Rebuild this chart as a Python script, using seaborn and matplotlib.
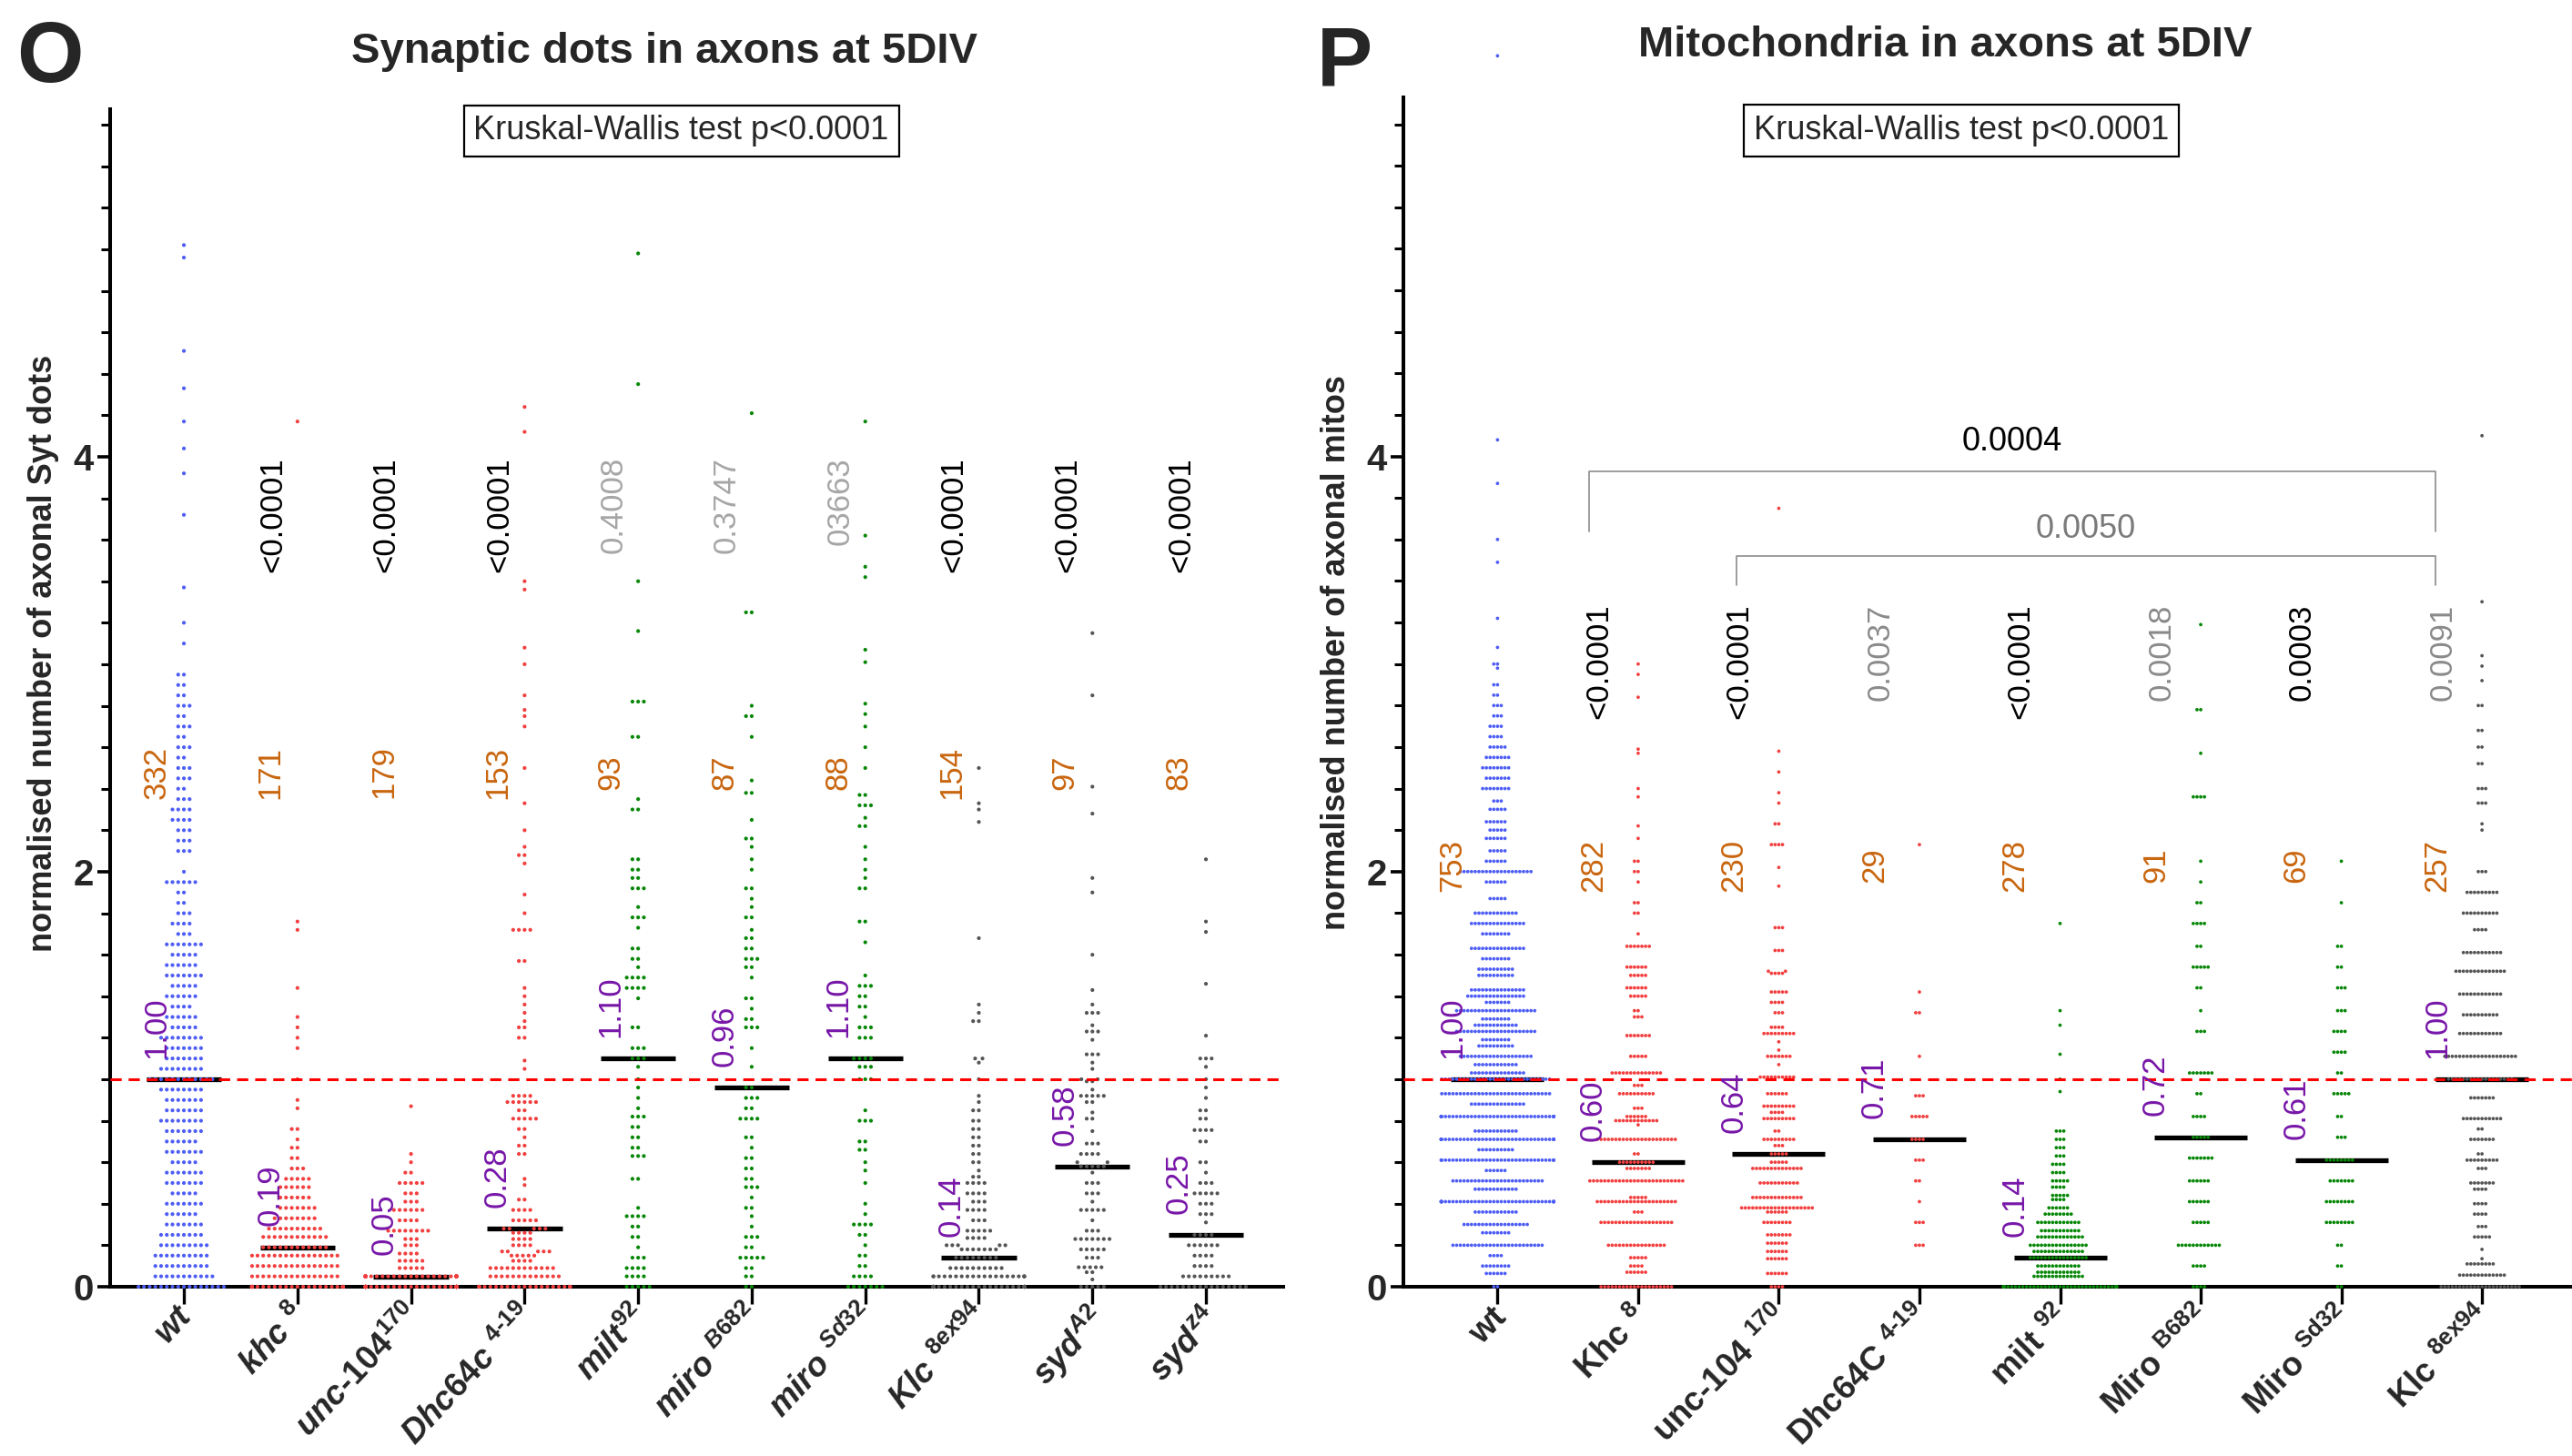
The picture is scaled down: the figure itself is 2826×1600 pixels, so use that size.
import warnings
warnings.filterwarnings('ignore')

import numpy as np
import pandas as pd
import matplotlib
matplotlib.use('Agg')
import matplotlib.pyplot as plt
from matplotlib.ticker import MultipleLocator
from matplotlib.transforms import ScaledTranslation
import seaborn as sns

# ---------------------------------------------------------------
# Panel O : synaptic (Syt) dots per axon, normalised to wt
# each group = distinct values + how many axons sit at each value
# ---------------------------------------------------------------
syt_groups = ['wt', 'khc8', 'unc104', 'Dhc64c', 'milt92', 'miroB682',
              'miroSd32', 'Klc8ex94', 'sydA2', 'sydZ4']

syt_wt_vals = [0, 0.05, 0.1, 0.15, 0.2, 0.25, 0.3, 0.35, 0.4, 0.45, 0.5, 0.55, 0.6, 0.65,
               0.7, 0.75, 0.8, 0.85, 0.9, 0.95, 1.0, 1.05, 1.1, 1.15, 1.2, 1.25, 1.3, 1.35,
               1.4, 1.45, 1.5, 1.55, 1.6, 1.65, 1.7, 1.75, 1.8, 1.85, 1.9, 1.95, 2.0, 2.1,
               2.15, 2.2, 2.25, 2.3, 2.35, 2.4, 2.45, 2.5, 2.55, 2.6, 2.65, 2.7, 2.75, 2.8,
               2.85, 2.9, 2.95, 3.1, 3.2, 3.37, 3.72, 3.92, 4.04, 4.17, 4.33, 4.51, 4.96, 5.02]
syt_wt_n = [16, 11, 10, 10, 9, 8, 7, 6, 7, 5, 7, 7, 5, 7, 6, 7, 8, 7, 7, 8, 12,
            8, 7, 7, 8, 5, 6, 4, 6, 5, 7, 6, 5, 7, 3, 4, 3, 2, 2, 6, 1,
            3, 3, 3, 4, 4, 3, 2, 3, 3, 2, 3, 2, 3, 2, 3, 2, 2, 2,
            1, 1, 1, 1, 1, 1, 1, 1, 1, 1, 1]

syt_khc_vals = [0, 0.05, 0.1, 0.15, 0.19, 0.24, 0.28, 0.33, 0.38, 0.43, 0.48, 0.52, 0.57,
                0.62, 0.67, 0.71, 0.76, 0.86, 0.9, 1.0, 1.15, 1.2, 1.25, 1.3, 1.44, 1.72,
                1.76, 4.17]
syt_khc_n = [36, 16, 16, 16, 12, 12, 10, 8, 7, 6, 6, 5, 3, 2, 2, 1, 2, 1, 1, 1,
             1, 1, 1, 1, 1, 1, 1, 1]

syt_unc_vals = [0, 0.05, 0.09, 0.125, 0.16, 0.2, 0.23, 0.27, 0.32, 0.37, 0.41, 0.45, 0.5,
                0.55, 0.6, 0.64, 0.87]
syt_unc_n = [85, 40, 5, 5, 4, 3, 3, 8, 4, 6, 3, 3, 5, 2, 1, 1, 1]

syt_dhc_vals = [0, 0.05, 0.09, 0.125, 0.15, 0.17, 0.2, 0.23, 0.26, 0.28, 0.32, 0.37, 0.42,
                0.49, 0.52, 0.64, 0.68, 0.72, 0.76, 0.81, 0.85, 0.89, 0.92, 1.05, 1.09, 1.2,
                1.25, 1.28, 1.32, 1.36, 1.4, 1.44, 1.57, 1.72, 1.8, 1.89, 2.04, 2.08, 2.12,
                2.2, 2.33, 2.5, 2.7, 2.75, 2.78, 2.85, 3.0, 3.08, 3.36, 3.4, 4.12, 4.24]
syt_dhc_n = [24, 13, 12, 4, 5, 5, 4, 4, 4, 5, 5, 4, 2, 1, 1, 2, 2, 1, 2, 5, 2, 6, 4,
             1, 1, 2, 2, 1, 1, 1, 1, 1, 2, 4, 1, 1, 1, 2, 1, 1, 1, 1, 1, 1, 1, 1, 1, 1,
             1, 1, 1, 1]

syt_milt_vals = [0, 0.05, 0.09, 0.14, 0.19, 0.24, 0.29, 0.34, 0.38, 0.52, 0.63, 0.67, 0.72,
                 0.77, 0.82, 0.86, 0.91, 0.96, 1.0, 1.06, 1.1, 1.15, 1.25, 1.39, 1.44, 1.49,
                 1.54, 1.58, 1.63, 1.73, 1.78, 1.83, 1.92, 1.97, 2.01, 2.06, 2.3, 2.35, 2.65,
                 2.82, 3.16, 3.4, 4.35, 4.98]
syt_milt_n = [5, 4, 4, 3, 1, 2, 2, 4, 1, 2, 3, 2, 2, 2, 3, 1, 1, 1, 1, 1, 3,
              3, 2, 1, 4, 4, 1, 2, 2, 1, 3, 1, 3, 2, 2, 2, 2, 1, 2, 3, 1, 1, 1, 1]

syt_miroB_vals = [0, 0.05, 0.09, 0.14, 0.19, 0.24, 0.29, 0.34, 0.38, 0.43, 0.48, 0.52, 0.57,
                  0.62, 0.67, 0.72, 0.81, 0.86, 0.91, 0.96, 1.06, 1.15, 1.25, 1.29, 1.34,
                  1.39, 1.49, 1.54, 1.58, 1.63, 1.68, 1.72, 1.78, 1.83, 1.87, 1.92, 2.01,
                  2.06, 2.12, 2.16, 2.25, 2.38, 2.44, 2.65, 2.75, 2.8, 3.25, 4.21]
syt_miroB_n = [2, 2, 2, 5, 2, 3, 1, 1, 2, 1, 3, 2, 2, 2, 1, 2, 4, 2, 3, 2,
               1, 1, 3, 2, 1, 2, 1, 2, 3, 2, 2, 1, 2, 1, 1, 2, 1, 1, 1, 2,
               1, 2, 1, 1, 2, 1, 2, 1]

syt_miroS_vals = [0, 0.05, 0.1, 0.15, 0.2, 0.25, 0.3, 0.35, 0.4, 0.5, 0.56, 0.6, 0.66, 0.7,
                  0.8, 0.85, 1.0, 1.06, 1.1, 1.2, 1.25, 1.3, 1.35, 1.4, 1.45, 1.5, 1.66,
                  1.76, 1.92, 1.97, 2.01, 2.06, 2.12, 2.22, 2.26, 2.32, 2.37, 2.5, 2.6, 2.7,
                  2.76, 2.81, 3.01, 3.07, 3.42, 3.47, 3.62, 4.17]
syt_miroS_n = [7, 4, 2, 2, 1, 2, 4, 1, 1, 1, 1, 1, 2, 2, 3, 1, 3, 3, 4,
               3, 3, 1, 2, 2, 3, 1, 1, 2, 2, 1, 1, 1, 1, 2, 1, 3,
               2, 1, 1, 1, 1, 1, 1, 1, 1, 1, 1, 1]

syt_klc_vals = [0, 0.05, 0.09, 0.14, 0.18, 0.2, 0.235, 0.27, 0.32, 0.37, 0.41, 0.45, 0.5,
                0.53, 0.56, 0.6, 0.64, 0.68, 0.72, 0.76, 0.8, 0.85, 0.89, 0.92, 1.0, 1.08,
                1.1, 1.28, 1.32, 1.36, 1.68, 2.24, 2.3, 2.33, 2.5]
syt_klc_n = [45, 20, 10, 8, 7, 5, 4, 5, 3, 4, 3, 4, 4, 2, 1, 2, 2, 2, 2, 2, 2, 2, 1,
             1, 1, 1, 2, 2, 1, 1, 1, 1, 1, 1, 1]

syt_sydA_vals = [0, 0.035, 0.07, 0.094, 0.14, 0.18, 0.23, 0.27, 0.32, 0.37, 0.41, 0.45, 0.5,
                 0.55, 0.58, 0.6, 0.64, 0.69, 0.75, 0.81, 0.84, 0.89, 0.92, 0.95, 0.99, 1.0,
                 1.05, 1.08, 1.12, 1.19, 1.23, 1.26, 1.32, 1.36, 1.43, 1.6, 1.9, 1.97, 2.28,
                 2.41, 2.85, 3.15]
syt_sydA_n = [5, 1, 2, 5, 3, 5, 7, 3, 1, 5, 1, 3, 3, 1, 5,
              2, 4, 3, 1, 2, 1, 2, 5, 1, 2, 2, 1, 1, 3, 1, 3, 1, 3, 1, 1, 1, 1, 1, 1, 1, 1, 1]

syt_sydZ_vals = [0, 0.05, 0.1, 0.15, 0.2, 0.25, 0.31, 0.35, 0.4, 0.45, 0.5, 0.55, 0.6, 0.7,
                 0.755, 0.81, 0.85, 0.91, 0.96, 1.0, 1.06, 1.1, 1.21, 1.46, 1.71, 1.76, 2.06]
syt_sydZ_n = [16, 9, 4, 4, 6, 4, 1, 3, 3, 5, 3, 1, 2, 2, 4, 2, 2, 1, 1, 1, 1, 3, 1,
              1, 1, 1, 1]

syt_medians = [1.00, 0.19, 0.05, 0.28, 1.10, 0.96, 1.10, 0.14, 0.58, 0.25]
syt_cells = [332, 171, 179, 153, 93, 87, 88, 154, 97, 83]
syt_pvals = ['', '<0.0001', '<0.0001', '<0.0001', '0.4008', '0.3747', '03663',
             '<0.0001', '<0.0001', '<0.0001']
syt_signif = [True, True, True, True, False, False, False, True, True, True]
syt_labels = [r'$\mathit{wt}$',
              r'$\mathit{khc\ }^{\mathit{8}}$',
              r'$\mathit{unc}\text{-}\mathit{104}^{\mathit{170}}$',
              r'$\mathit{Dhc64c\ }^{\mathit{4}\text{-}\mathit{19}}$',
              r'$\mathit{milt}^{\mathit{92}}$',
              r'$\mathit{miro\ }^{\mathit{B682}}$',
              r'$\mathit{miro\ }^{\mathit{Sd32}}$',
              r'$\mathit{Klc\ }^{\mathit{8ex94}}$',
              r'$\mathit{syd}^{\mathit{A2}}$',
              r'$\mathit{syd}^{\mathit{z4}}$']

# ---------------------------------------------------------------
# Panel P : mitochondria per axon, normalised to wt
# ---------------------------------------------------------------
mito_groups = ['wt', 'Khc8', 'unc104', 'Dhc64C', 'milt92', 'MiroB682', 'MiroSd32', 'Klc8ex94']

mito_wt_vals = [0, 0.064, 0.1, 0.15, 0.2, 0.26, 0.3, 0.36, 0.41, 0.47, 0.51, 0.56, 0.61, 0.66,
                0.71, 0.75, 0.82, 0.88, 0.93, 1.0, 1.03, 1.07, 1.11, 1.16, 1.19, 1.23, 1.26,
                1.29, 1.33, 1.37, 1.4, 1.43, 1.5, 1.53, 1.58, 1.63, 1.7, 1.75, 1.8, 1.87,
                1.95, 2.0, 2.05, 2.1, 2.16, 2.2, 2.24, 2.3, 2.34, 2.4, 2.45, 2.5, 2.55, 2.6,
                2.65, 2.7, 2.75, 2.8, 2.85, 2.9, 2.98, 3.0, 3.08, 3.22, 3.49, 3.6, 3.87,
                4.08, 5.93]
mito_wt_n = [2, 6, 8, 4, 25, 8, 18, 12, 40, 12, 25, 6, 35, 10, 40, 12, 40, 15, 30, 30,
             15, 12, 20, 10, 8, 22, 12, 8, 22, 7, 16, 15, 10, 10, 8, 15, 8, 15, 12, 5,
             6, 20, 6, 5, 6, 5, 6, 5, 3, 8, 7, 8, 7, 5, 4, 4, 3, 3, 2, 2, 1, 2, 1, 1, 1,
             1, 1, 1, 1]

mito_khc_vals = [0, 0.07, 0.1, 0.14, 0.2, 0.31, 0.36, 0.41, 0.43, 0.51, 0.57, 0.6, 0.64,
                 0.71, 0.78, 0.8, 0.82, 0.86, 0.93, 0.97, 1.03, 1.11, 1.21, 1.3, 1.33, 1.4,
                 1.44, 1.5, 1.54, 1.64, 1.7, 1.8, 1.85, 1.95, 2.0, 2.05, 2.16, 2.22, 2.36,
                 2.4, 2.57, 2.59, 2.84, 2.95, 3.0]
mito_khc_n = [20, 6, 4, 5, 16, 20, 3, 22, 5, 26, 7, 10, 2, 22, 1, 12, 6, 3, 10, 3, 14, 5,
              7, 3, 2, 5, 6, 5, 6, 7, 1, 2, 2, 1, 2, 2, 1, 1, 1, 1, 1, 1, 1, 1, 1]

mito_unc_vals = [0, 0.064, 0.135, 0.17, 0.21, 0.25, 0.31, 0.36, 0.38, 0.43, 0.5, 0.57, 0.6,
                 0.64, 0.68, 0.71, 0.75, 0.81, 0.84, 0.87, 0.93, 1.01, 1.07, 1.11, 1.14,
                 1.18, 1.22, 1.25, 1.32, 1.37, 1.42, 1.51, 1.52, 1.62, 1.73, 1.93, 2.02,
                 2.13, 2.23, 2.33, 2.38, 2.48, 2.58, 3.75]
mito_unc_n = [4, 6, 6, 6, 6, 7, 8, 6, 20, 14, 11, 14, 5, 5, 3, 9, 2, 9, 4, 9, 6, 10, 1,
              7, 1, 1, 9, 4, 3, 4, 5, 4, 2, 3, 3, 1, 1, 4, 2, 1, 1, 1, 1, 1]

mito_dhc_vals = [0.2, 0.31, 0.41, 0.51, 0.61, 0.71, 0.82, 0.92, 1.11, 1.32, 1.42, 2.13]
mito_dhc_n = [3, 3, 1, 2, 3, 4, 5, 3, 1, 2, 1, 1]

mito_milt_vals = [0, 0.05, 0.07, 0.1, 0.14, 0.17, 0.2, 0.24, 0.27, 0.31, 0.35, 0.38, 0.42,
                  0.44, 0.48, 0.51, 0.55, 0.59, 0.63, 0.67, 0.71, 0.75, 0.94, 1.0, 1.12,
                  1.26, 1.33, 1.75]
mito_milt_n = [100, 14, 12, 12, 16, 14, 16, 13, 11, 12, 8, 6, 4, 5, 4, 5, 4, 4, 3, 3, 3,
               3, 1, 1, 1, 1, 1, 1]

mito_miroB_vals = [0, 0.1, 0.2, 0.31, 0.41, 0.51, 0.62, 0.72, 0.82, 0.93, 1.03, 1.23, 1.33,
                   1.44, 1.54, 1.64, 1.75, 1.85, 1.95, 2.05, 2.36, 2.57, 2.78, 3.19]
mito_miroB_n = [4, 4, 12, 5, 6, 6, 7, 5, 4, 2, 7, 3, 1, 2, 5, 2, 4, 2, 1, 1, 4, 1, 2, 1]

mito_miroS_vals = [0, 0.1, 0.2, 0.31, 0.41, 0.51, 0.61, 0.72, 0.82, 0.93, 1.03, 1.13, 1.23,
                   1.33, 1.44, 1.54, 1.64, 1.85, 2.05]
mito_miroS_n = [2, 2, 2, 8, 8, 7, 8, 3, 2, 5, 2, 4, 4, 3, 3, 2, 2, 1, 1]

mito_klc_vals = [0, 0.056, 0.11, 0.135, 0.18, 0.24, 0.29, 0.35, 0.4, 0.47, 0.5, 0.57, 0.61,
                 0.64, 0.71, 0.76, 0.81, 0.91, 1.0, 1.11, 1.22, 1.31, 1.41, 1.52, 1.61, 1.72,
                 1.8, 1.9, 2.0, 2.2, 2.23, 2.33, 2.4, 2.52, 2.6, 2.68, 2.8, 2.92, 2.99, 3.04,
                 3.3, 4.1]
mito_klc_n = [22, 13, 8, 1, 1, 5, 3, 4, 4, 4, 7, 3, 9, 2, 7, 2, 11, 7, 18, 20, 12, 10, 12,
              14, 11, 4, 10, 9, 3, 1, 1, 3, 3, 2, 2, 2, 2, 1, 1, 1, 1, 1]

mito_medians = [1.00, 0.60, 0.64, 0.71, 0.14, 0.72, 0.61, 1.00]
mito_cells = [753, 282, 230, 29, 278, 91, 69, 257]
mito_pvals = ['', '<0.0001', '<0.0001', '0.0037', '<0.0001', '0.0018', '0.0003', '0.0091']
mito_signif = [True, True, True, False, True, False, True, False]
mito_labels = [r'$\mathbf{wt}$',
               r'$\mathbf{Khc\ }^{\mathbf{8}}$',
               r'$\mathbf{unc}\text{-}\mathbf{104\ }^{\mathbf{170}}$',
               r'$\mathbf{Dhc64C\ }^{\mathbf{4}\text{-}\mathbf{19}}$',
               r'$\mathbf{milt\ }^{\mathbf{92}}$',
               r'$\mathbf{Miro\ }^{\mathbf{B682}}$',
               r'$\mathbf{Miro\ }^{\mathbf{Sd32}}$',
               r'$\mathbf{Klc\ }^{\mathbf{8ex94}}$']

# pairwise comparisons drawn as brackets in panel P
mito_brackets = [('Khc8', 'Klc8ex94', '0.0004'), ('unc104', 'Klc8ex94', '0.0050')]

BLUE, RED, GREEN, GREY = '#4e5ef5', '#f23f3f', '#078707', '#555555'
ORANGE, PURPLE = '#c9660f', '#7716a8'
syt_colors = [BLUE, RED, RED, RED, GREEN, GREEN, GREEN, GREY, GREY, GREY]
mito_colors = [BLUE, RED, RED, RED, GREEN, GREEN, GREEN, GREY]

syt_vals = [syt_wt_vals, syt_khc_vals, syt_unc_vals, syt_dhc_vals, syt_milt_vals,
            syt_miroB_vals, syt_miroS_vals, syt_klc_vals, syt_sydA_vals, syt_sydZ_vals]
syt_ns = [syt_wt_n, syt_khc_n, syt_unc_n, syt_dhc_n, syt_milt_n,
          syt_miroB_n, syt_miroS_n, syt_klc_n, syt_sydA_n, syt_sydZ_n]
mito_vals = [mito_wt_vals, mito_khc_vals, mito_unc_vals, mito_dhc_vals, mito_milt_vals,
             mito_miroB_vals, mito_miroS_vals, mito_klc_vals]
mito_ns = [mito_wt_n, mito_khc_n, mito_unc_n, mito_dhc_n, mito_milt_n,
           mito_miroB_n, mito_miroS_n, mito_klc_n]


def long_table(groups, vals, ns):
    parts = [pd.DataFrame({'group': g, 'value': np.repeat(v, n)})
             for g, v, n in zip(groups, vals, ns)]
    return pd.concat(parts, ignore_index=True)


# ---------------------------------------------------------------
# style
# ---------------------------------------------------------------
sns.set_theme(style='ticks')
plt.rcParams['font.family'] = ['Liberation Sans', 'DejaVu Sans']
plt.rcParams['mathtext.fontset'] = 'custom'
plt.rcParams['mathtext.it'] = 'Liberation Sans:italic:bold'
plt.rcParams['mathtext.bf'] = 'Liberation Sans:bold'
plt.rcParams['mathtext.rm'] = 'Liberation Sans:bold'

fig = plt.figure(figsize=(28.26, 16), dpi=100)
ax1 = fig.add_axes([0.0428, 0.11625, 0.4561, 0.80875])
ax2 = fig.add_axes([0.5456, 0.11625, 0.4544, 0.8169])


def draw_panel(ax, groups, vals, ns, colors, medians, cells, pvals, signif, labels,
               ytop, xlim, dot, dot_gap, off, n_y, p_top, p_off, p_grey, ylabel,
               lab_rot, lab_size, lab_pad, lab_shift):
    df = long_table(groups, vals, ns)
    sns.swarmplot(data=df, x='group', y='value', hue='group', order=groups,
                  hue_order=groups, palette=colors, size=dot, linewidth=dot_gap,
                  edgecolor='none', legend=False, ax=ax, clip_on=False, zorder=4,
                  warn_thresh=1)
    idx = np.arange(len(groups))
    ax.hlines(medians, idx - 0.33, idx + 0.33, color='black', lw=3.8, zorder=3)
    ax.axhline(1.0, color='red', ls=(0, (4, 2.5)), lw=2.2, zorder=6)

    for i in idx:
        ax.text(i + off, n_y, str(cells[i]), rotation=90, ha='center', va='center',
                color=ORANGE, fontsize=25, zorder=7)
        ax.text(i + off, medians[i] + 0.25, f'{medians[i]:.2f}', rotation=90,
                ha='center', va='center', color=PURPLE, fontsize=25, zorder=7)
        if pvals[i]:
            ax.text(i + p_off, p_top, pvals[i], rotation=90, ha='center', va='top',
                    color='black' if signif[i] else p_grey, fontsize=25, zorder=7)

    ax.set_xlim(*xlim)
    ax.set_ylim(0, ytop)
    ax.set_xticks(idx)
    ax.tick_params(axis='x', length=14, width=2.4, pad=lab_pad, color='black')
    ax.set_xticklabels(labels, rotation=lab_rot, ha='right', va='top',
                       rotation_mode='anchor', fontsize=lab_size)
    shift = ScaledTranslation(-lab_shift / 100, 0, fig.dpi_scale_trans)
    for lab in ax.get_xticklabels():
        lab.set_transform(lab.get_transform() + shift)
    ax.set_yticks([0, 2, 4])
    ax.set_yticklabels(['0', '2', '4'], fontsize=29, fontweight='bold')
    ax.yaxis.set_minor_locator(MultipleLocator(0.2))
    ax.tick_params(axis='y', which='major', length=10, width=2.6, pad=3, color='black')
    ax.tick_params(axis='y', which='minor', length=7, width=2.2, color='black')
    ax.set_xlabel('')
    ax.set_ylabel(ylabel, fontsize=26, fontweight='bold')
    ax.yaxis.label.set_va('center')
    sns.despine(ax=ax)
    for side in ['left', 'bottom']:
        ax.spines[side].set_linewidth(2.9)
        ax.spines[side].set_color('black')
    ax.set_facecolor('none')


draw_panel(ax1, syt_groups, syt_vals, syt_ns, syt_colors, syt_medians, syt_cells,
           syt_pvals, syt_signif, syt_labels, ytop=5.675, xlim=(-0.65, 9.68),
           dot=3.0, dot_gap=1.3, off=-0.24, n_y=2.48, p_top=4.0, p_off=-0.22,
           p_grey='#a6a6a6', ylabel='normalised number of axonal Syt dots',
           lab_rot=47, lab_size=26.5, lab_pad=-4, lab_shift=8)
draw_panel(ax2, mito_groups, mito_vals, mito_ns, mito_colors, mito_medians, mito_cells,
           mito_pvals, mito_signif, mito_labels, ytop=5.73, xlim=(-0.67, 7.64),
           dot=2.7, dot_gap=0.1, off=-0.32, n_y=2.03, p_top=3.29, p_off=-0.28,
           p_grey='#8a8a8a', ylabel='normalised number of axonal mitos',
           lab_rot=45, lab_size=26.5, lab_pad=-3, lab_shift=7)

ax1.yaxis.set_label_coords(-0.0566, 0.538)
ax2.yaxis.set_label_coords(-0.0569, 0.533)

# Kruskal-Wallis boxes
box = dict(boxstyle='square,pad=0.3', fc='white', ec='black', lw=1.6)
ax1.text(4.38, 5.57, 'Kruskal-Wallis test p<0.0001', ha='center', va='center',
         fontsize=26, bbox=box, zorder=7)
ax2.text(3.30, 5.57, 'Kruskal-Wallis test p<0.0001', ha='center', va='center',
         fontsize=26, bbox=box, zorder=7)

# brackets in panel P
bracket_geom = [(-0.35, -0.33, 3.64, 3.93, 4.07, 'black'),
                (-0.30, -0.33, 3.38, 3.52, 3.65, '#7a7a7a')]
for (g1, g2, lab), (o1, o2, ylo, yhi, ytxt, tcol) in zip(mito_brackets, bracket_geom):
    x1 = mito_groups.index(g1) + o1
    x2 = mito_groups.index(g2) + o2
    ax2.plot([x1, x1, x2, x2], [ylo, yhi, yhi, ylo], color='#8c8c8c', lw=1.2, zorder=5)
    ax2.text((x1 + x2) / 2, ytxt, lab, ha='center', va='center', color=tcol, fontsize=26)

# titles and panel letters
fig.text(730 / 2826, 1 - 69 / 1600, 'Synaptic dots in axons at 5DIV', ha='center',
         va='baseline', fontsize=34, fontweight='bold')
fig.text(2137 / 2826, 1 - 62 / 1600, 'Mitochondria in axons at 5DIV', ha='center',
         va='baseline', fontsize=34, fontweight='bold')
fig.text(18 / 2826, 1 - 90 / 1600, 'O', ha='left', va='baseline', fontsize=68,
         fontweight='bold')
fig.text(1447 / 2826, 1 - 94 / 1600, 'P', ha='left', va='baseline', fontsize=66,
         fontweight='bold')

fig.savefig('out.png', dpi=100, facecolor='white')
